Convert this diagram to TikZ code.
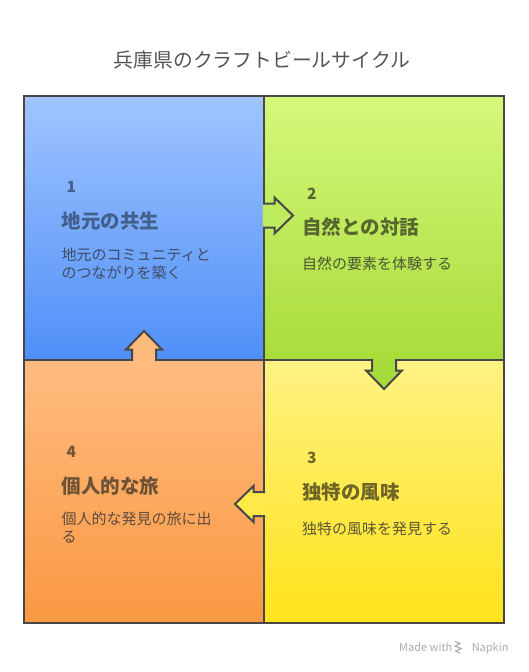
\documentclass[tikz,border=0pt]{standalone}
\usepackage{fontspec}
\setmainfont{Noto Sans CJK JP}
\usetikzlibrary{positioning}

\definecolor{edge}{HTML}{474747}
\definecolor{qatop}{HTML}{A0C4FF}
\definecolor{qabot}{HTML}{4F8FF8}
\definecolor{qbtop}{HTML}{D5F87B}
\definecolor{qbbot}{HTML}{A8DC3B}
\definecolor{qctop}{HTML}{FFF282}
\definecolor{qcbot}{HTML}{FFE31A}
\definecolor{qdtop}{HTML}{FFBC80}
\definecolor{qdbot}{HTML}{FA9842}
\definecolor{qahead}{HTML}{435F8C}
\definecolor{qadesc}{HTML}{3E4C63}
\definecolor{qbhead}{HTML}{56682F}
\definecolor{qbdesc}{HTML}{4B5535}
\definecolor{qchead}{HTML}{6E6625}
\definecolor{qcdesc}{HTML}{5C5636}
\definecolor{qdhead}{HTML}{6E5236}
\definecolor{qddesc}{HTML}{5E4B3D}

\begin{document}
\begin{tikzpicture}[x=1pt,y=-1pt,
	quad/.style={rectangle,draw=edge,line width=2pt,inner sep=0pt,minimum width=240pt},
	numtext/.style={inner sep=0pt,anchor=base west,font=\fontsize{15.5}{18}\selectfont\bfseries},
	headtext/.style={inner sep=0pt,font=\fontsize{19.5}{22}\selectfont\bfseries},
	desctext/.style={inner sep=0pt,align=left,text width=170pt,font=\fontsize{15}{17.5}\selectfont},
	foottext/.style={inner sep=0pt,text=black!33,font=\fontsize{11}{13}\selectfont}]
		\useasboundingbox (0,0) rectangle (528,672);

		\node[inner sep=0pt,text=black!67,font=\fontsize{19.8}{22}\selectfont]	(title)	at (262,60)	{兵庫県のクラフトビールサイクル};

		\node[quad,minimum height=264pt,top color=qatop,bottom color=qabot]	(q1)	at (144,228)	{};
		\node[quad,minimum height=264pt,top color=qbtop,bottom color=qbbot]	(q2)	at (384,228)	{};
		\node[quad,minimum height=263pt,top color=qctop,bottom color=qcbot]	(q3)	at (384,491.5)	{};
		\node[quad,minimum height=263pt,top color=qdtop,bottom color=qdbot]	(q4)	at (144,491.5)	{};

		\coordinate	(q1out)	at (264,215.5);
		\coordinate	(q2out)	at (384,360);
		\coordinate	(q3out)	at (264,504);
		\coordinate	(q4out)	at (144,360);

		\foreach \base/\ang/\col in {q1out/0/qbtop!55!qbbot, q2out/-90/qbbot, q3out/180/qctop!45!qcbot, q4out/90/qdtop!96!qdbot}
		{
			\begin{scope}[shift={(\base)},rotate=\ang]
				\fill[\col] (-1.2,-12) -- (10.5,-12) -- (10.5,-18) -- (29,0) -- (10.5,18) -- (10.5,12) -- (-1.2,12) -- cycle;
				\draw[edge,line width=2pt,line join=miter] (-1,-12) -- (10.5,-12) -- (10.5,-18) -- (29,0) -- (10.5,18) -- (10.5,12) -- (-1,12);
			\end{scope}
		}

		\node[numtext,text=qahead]								(n1)	at (66.5,192.7)	{1};
		\node[headtext,text=qahead,below=35.7pt of n1.base west,anchor=base west,xshift=-5pt]	(h1)	{地元の共生};
		\node[desctext,text=qadesc,below=32.3pt of h1.base west,anchor=base west]	(d1)	{地元のコミュニティと\\のつながりを築く};

		\node[numtext,text=qbhead]								(n2)	at (307,199)	{2};
		\node[headtext,text=qbhead,below=35.4pt of n2.base west,anchor=base west,xshift=-5pt]	(h2)	{自然との対話};
		\node[desctext,text=qbdesc,below=35.3pt of h2.base west,anchor=base west]	(d2)	{自然の要素を体験する};

		\node[numtext,text=qchead]								(n3)	at (307,463)	{3};
		\node[headtext,text=qchead,below=36pt of n3.base west,anchor=base west,xshift=-5pt]	(h3)	{独特の風味};
		\node[desctext,text=qcdesc,below=35.2pt of h3.base west,anchor=base west]	(d3)	{独特の風味を発見する};

		\node[numtext,text=qdhead]								(n4)	at (66.5,457)	{4};
		\node[headtext,text=qdhead,below=36pt of n4.base west,anchor=base west,xshift=-5pt]	(h4)	{個人的な旅};
		\node[desctext,text=qddesc,below=31.7pt of h4.base west,anchor=base west]	(d4)	{個人的な発見の旅に出\\る};

		\node[foottext,anchor=base west]							(made)	at (399,651)	{Made with};
		\node[foottext,right=19pt of made.base east,anchor=base west]			(napkin)	{Napkin};
		\draw[black!33,line width=1.1pt,line cap=round]	(455,641.5) -- (460,643.5) -- (455,646) -- (461,648.5) -- (455.5,651) -- (460,653);
\end{tikzpicture}
\end{document}
